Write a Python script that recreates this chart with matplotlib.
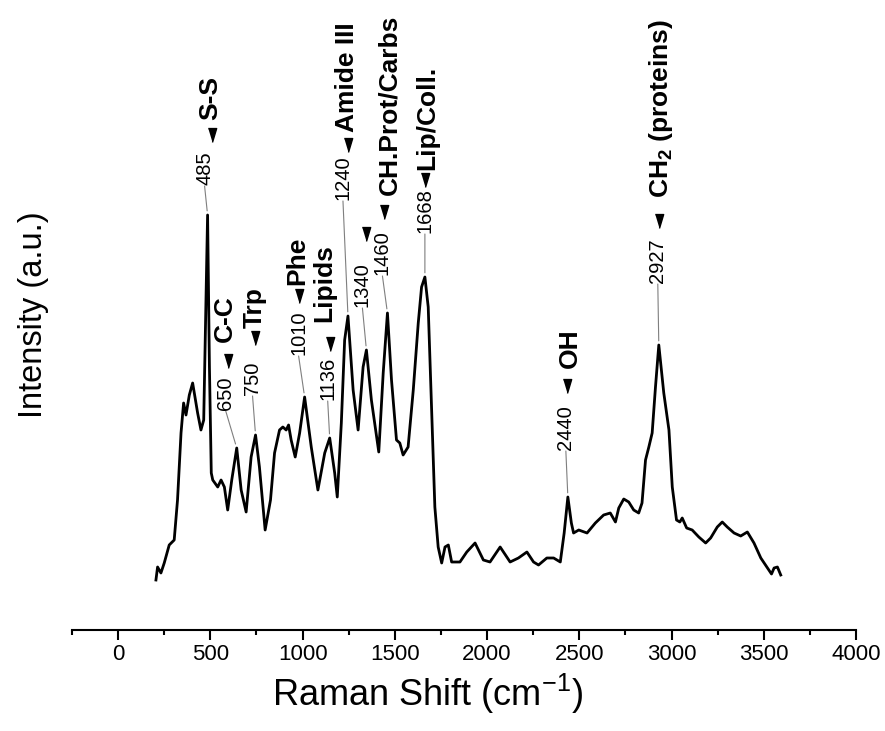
import numpy as np
import matplotlib
matplotlib.use("Agg")
import matplotlib.pyplot as plt
from matplotlib.transforms import offset_copy
from matplotlib.ticker import MultipleLocator

plt.rcParams['font.family'] = ['Liberation Sans', 'DejaVu Sans']
plt.rcParams['mathtext.fontset'] = 'custom'
plt.rcParams['mathtext.rm'] = 'Liberation Sans'
plt.rcParams['mathtext.it'] = 'Liberation Sans:italic'
plt.rcParams['mathtext.bf'] = 'Liberation Sans:bold'
plt.rcParams['mathtext.default'] = 'regular'

# ---------------- data ----------------
raman_shift = [205, 214, 232, 250, 277, 304, 322, 341, 355, 368, 386, 404, 431, 449, 464,
               485, 495, 505, 513, 540, 558, 576, 594, 616, 643, 667, 694, 721, 745, 766,
               797, 826, 848, 875, 893, 911, 924, 938, 960, 984, 1011, 1047, 1083, 1120,
               1147, 1174, 1188, 1210, 1228, 1246, 1274, 1301, 1328, 1346, 1373, 1413,
               1437, 1460, 1482, 1509, 1527, 1545, 1572, 1600, 1627, 1645, 1663, 1681,
               1699, 1717, 1735, 1754, 1772, 1790, 1808, 1853, 1890, 1935, 1980, 2016,
               2071, 2125, 2170, 2216, 2252, 2279, 2324, 2361, 2397, 2418, 2438, 2457,
               2469, 2497, 2542, 2587, 2632, 2650, 2668, 2696, 2714, 2741, 2768, 2795,
               2822, 2840, 2859, 2877, 2895, 2913, 2931, 2958, 2986, 3004, 3027, 3045,
               3058, 3082, 3112, 3148, 3185, 3212, 3248, 3275, 3302, 3339, 3375, 3411,
               3447, 3484, 3520, 3542, 3556, 3574, 3592]
intensity = [50, 63, 57, 67, 85, 90, 130, 197, 227, 215, 235, 247, 217, 200, 210,
             415, 263, 157, 150, 143, 150, 143, 120, 150, 182, 140, 118, 173, 195, 163,
             100, 130, 177, 200, 203, 200, 205, 190, 173, 197, 233, 183, 140, 177,
             192, 157, 133, 207, 290, 314, 240, 200, 263, 280, 230, 178,
             257, 317, 250, 190, 187, 175, 183, 240, 307, 343, 353, 323,
             223, 123, 83, 67, 83, 85, 68, 68, 78, 87, 70, 68,
             83, 68, 72, 78, 68, 65, 72, 72, 68, 97, 133, 107,
             97, 100, 97, 107, 115, 116, 117, 108, 122, 131, 128, 120,
             117, 127, 170, 183, 197, 243, 285, 237, 200, 143, 110, 108,
             112, 102, 100, 93, 87, 92, 103, 108, 103, 97, 94, 98,
             87, 72, 62, 56, 62, 63, 55]

peak_positions = [485, 650, 750, 1010, 1136, 1240, 1340, 1460, 1668, 2440, 2927]
peak_numbers = ['485', '650', '750', '1010', '1136', '1240', '1340', '1460', '1668', '2440', '2927']
peak_labels = ['S-S', 'C-C', 'Trp', 'Phe', 'Lipids', 'Amide III', '', 'CH.Prot/Carbs',
               'Lip/Coll.', 'OH', r'$\mathbf{CH_2}$ (proteins)']

x_ticks = [0, 500, 1000, 1500, 2000, 2500, 3000, 3500, 4000]

# ---------------- layout (pixel offsets from peak) ----------------
num_off = [(-3, 30), (-11, 38), (-3, 40), (-6, 42), (-2, 38), (-5, 116), (-4, 43),
           (-5, 38), (0, 44), (-2, 47), (-1, 62)]
tri_off = [(4, 80), (-9, 87), (-1, 97), (-6, 101), (0, 94), (0, 171), (0, 116),
           (-3, 101), (0, 97), (-1, 111), (0, 124)]
lab_off = [(3, 95), (-12, 106), (-1, 107), (-7, 112), (-5, 116), (-1, 184), (0, 0),
           (2, 118), (2, 107), (2, 129), (2, 147)]

W, H = 885, 731
fig = plt.figure(figsize=(W / 100, H / 100), dpi=100)
ax = fig.add_axes([72 / W, 101 / H, 784 / W, 630 / H])

x = np.array(raman_shift, dtype=float)
y = np.array(intensity, dtype=float)
ax.plot(x, y, color='black', lw=2.0, solid_joinstyle='round')

ax.set_xlim(-250, 4000)
ax.set_ylim(0, 630)

for s in ['top', 'right', 'left']:
    ax.spines[s].set_visible(False)
ax.spines['bottom'].set_linewidth(1.5)
ax.set_yticks([])
ax.set_xticks(x_ticks)
ax.xaxis.set_minor_locator(MultipleLocator(250))
ax.tick_params(axis='x', which='major', direction='out', length=7, width=1.5,
               labelsize=16, pad=3)
ax.tick_params(axis='x', which='minor', direction='out', length=3.5, width=1.5)

tri_marker = [(-0.3, 0.5), (0.3, 0.5), (0.0, -0.5)]

for i, p in enumerate(peak_positions):
    m = np.abs(x - p) <= 15
    j = np.argmax(np.where(m, y, -1))
    px, py = x[j], y[j]
    ndx, ndy = num_off[i]
    ax.annotate('', xy=(px, py), xytext=(ndx, ndy - 1), textcoords='offset pixels',
                arrowprops=dict(arrowstyle='-', color='#7f7f7f', lw=0.8,
                                shrinkA=0, shrinkB=3))
    ax.annotate(peak_numbers[i], xy=(px, py), xytext=(ndx, ndy),
                textcoords='offset pixels', rotation=90, ha='center', va='bottom',
                fontsize=14.5)
    tdx, tdy = tri_off[i]
    ax.plot([px], [py], marker=tri_marker, markersize=10, color='black', ls='none',
            transform=offset_copy(ax.transData, fig=fig, x=tdx, y=tdy, units='dots'))
    if peak_labels[i]:
        ldx, ldy = lab_off[i]
        ax.annotate(peak_labels[i], xy=(px, py), xytext=(ldx, ldy),
                    textcoords='offset pixels', rotation=90, ha='center', va='bottom',
                    fontsize=19, fontweight='bold')

fig.text(34 / W, 1 - 315 / H, 'Intensity (a.u.)', rotation=90, ha='center',
         va='center', fontsize=23.5)
fig.text(428 / W, 1 - 694 / H, r'Raman Shift (cm$^{-1}$)', ha='center',
         va='center', fontsize=26)

fig.savefig('out.png', dpi=100)
